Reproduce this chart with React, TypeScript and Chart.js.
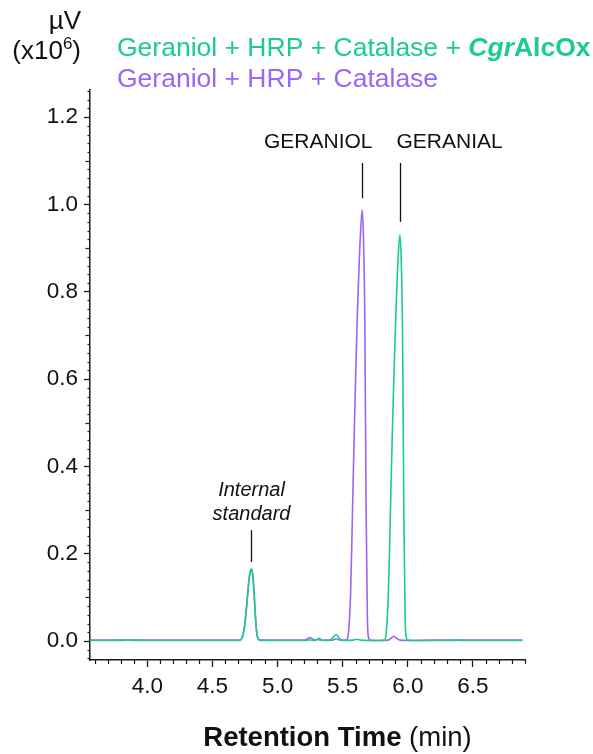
import React, { useEffect, useRef } from "react";
import { Chart, registerables } from "chart.js";

Chart.register(...registerables);

// ---- Data (retention time in min, signal in µV x10^6) ----
const GREEN_T = [3.56, 3.7, 3.85, 4.0, 4.2, 4.4, 4.6, 4.7,
  4.72, 4.73, 4.74, 4.75, 4.76, 4.77, 4.78, 4.79, 4.8, 4.81, 4.82, 4.83, 4.84, 4.85, 4.86,
  4.9, 5.0, 5.1, 5.2, 5.23, 5.25, 5.27, 5.3, 5.32, 5.34, 5.37, 5.41, 5.43, 5.45, 5.47, 5.49,
  5.52, 5.58, 5.61, 5.64, 5.7, 5.78, 5.82,
  5.83, 5.84, 5.85, 5.86, 5.87, 5.88, 5.89, 5.9, 5.91, 5.92, 5.93, 5.94, 5.95, 5.96, 5.97, 5.98, 5.99, 6.0,
  6.1, 6.25, 6.35, 6.38, 6.41, 6.55, 6.7, 6.88];
const GREEN_V = [0.001, 0.001, 0.002, 0.001, 0.001, 0.001, 0.001, 0.001,
  0.003, 0.009, 0.021, 0.041, 0.071, 0.105, 0.137, 0.157, 0.164, 0.15, 0.11, 0.056, 0.019, 0.005, 0.002,
  0.001, 0.001, 0.001, 0.001, 0.002, 0.003, 0.001, 0.003, 0.006, 0.002, 0.001, 0.003, 0.01, 0.015, 0.008, 0.002,
  0.001, 0.002, 0.004, 0.002, 0.001, 0.001, 0.002,
  0.008, 0.04, 0.1, 0.21, 0.34, 0.46, 0.57, 0.67, 0.76, 0.84, 0.9, 0.93, 0.87, 0.7, 0.28, 0.05, 0.006, 0.002,
  0.001, 0.001, 0.001, 0.003, 0.001, 0.001, 0.001, 0.001];

const PURPLE_T = [3.56, 3.75, 3.95, 4.15, 4.35, 4.55, 4.7,
  4.72, 4.73, 4.74, 4.75, 4.76, 4.77, 4.78, 4.79, 4.8, 4.81, 4.82, 4.83, 4.84, 4.85, 4.86,
  4.95, 5.1, 5.2, 5.23, 5.25, 5.27, 5.29, 5.31, 5.33, 5.42, 5.45, 5.48, 5.52,
  5.53, 5.54, 5.55, 5.56, 5.57, 5.58, 5.59, 5.6, 5.61, 5.62, 5.63, 5.64, 5.65, 5.66, 5.67, 5.68, 5.69, 5.7, 5.71,
  5.8, 5.85, 5.87, 5.89, 5.91, 5.94, 6.0, 6.2, 6.38, 6.6, 6.88];
const PURPLE_V = [0.002, 0.002, 0.002, 0.002, 0.002, 0.002, 0.002,
  0.004, 0.01, 0.022, 0.042, 0.072, 0.106, 0.138, 0.158, 0.165, 0.151, 0.111, 0.057, 0.02, 0.006, 0.003,
  0.002, 0.002, 0.002, 0.005, 0.008, 0.004, 0.002, 0.004, 0.002, 0.002, 0.005, 0.002, 0.002,
  0.003, 0.008, 0.04, 0.1, 0.22, 0.36, 0.49, 0.61, 0.72, 0.81, 0.89, 0.95, 0.987, 0.92, 0.74, 0.3, 0.05, 0.006, 0.002,
  0.001, 0.002, 0.006, 0.011, 0.007, 0.002, 0.001, 0.002, 0.002, 0.002, 0.002];

const X_MAJOR_TICKS = [4.0, 4.5, 5.0, 5.5, 6.0, 6.5];
const Y_MAJOR_TICKS = [0.0, 0.2, 0.4, 0.6, 0.8, 1.0, 1.2];

const SERIES_LABELS = ["Geraniol + HRP + Catalase + ", "Geraniol + HRP + Catalase"];
const ENZYME_ITALIC = "Cgr";
const ENZYME_BOLD = "AlcOx";
const X_TITLE_BOLD = "Retention Time";
const X_TITLE_REST = " (min)";
const Y_UNIT = "µV";

// peak annotations: label, x (min) of marker line, line top/bottom (signal)
const PEAK_LABELS = ["GERANIOL", "GERANIAL"];
const PEAK_TIMES = [5.65, 5.94];
const PEAK_LINE_TOP = [1.095, 1.095];
const PEAK_LINE_BOTTOM = [1.014, 0.96];
const IS_LABEL = ["Internal", "standard"];
const IS_TIME = 4.8;

const GREEN = "#1bcc8b";
const PURPLE = "#9966f5";
const FONT = "'Liberation Sans', Arial, Helvetica, sans-serif";
const AXIS = "#1a1a1a";

export default function App() {
  const ref = useRef<HTMLCanvasElement | null>(null);

  useEffect(() => {
    document.body.style.margin = "0";
    const canvas = ref.current;
    if (!canvas) return;

    const toPts = (t: number[], v: number[]) => t.map((x, i) => ({ x, y: v[i] }));

    const decor = {
      id: "decor",
      afterDraw(chart: any) {
        const ctx = chart.ctx as CanvasRenderingContext2D;
        const xs = chart.scales.x;
        const ys = chart.scales.y;
        const bottom = chart.chartArea.bottom;
        const left = chart.chartArea.left;
        ctx.save();
        // minor x ticks every 0.1
        ctx.strokeStyle = AXIS;
        ctx.lineWidth = 1.2;
        for (let i = 36; i <= 69; i++) {
          if (i % 5 === 0) continue;
          const px = Math.round(xs.getPixelForValue(i / 10)) + 0.5;
          ctx.beginPath();
          ctx.moveTo(px, bottom);
          ctx.lineTo(px, bottom + 4);
          ctx.stroke();
        }
        // minor y ticks every 0.02
        for (let i = -2; i <= 63; i++) {
          if (i % 10 === 0) continue;
          const py = Math.round(ys.getPixelForValue(i * 0.02)) + 0.5;
          const len = i % 5 === 0 ? 4.5 : 2.5;
          ctx.beginPath();
          ctx.moveTo(left, py);
          ctx.lineTo(left - len, py);
          ctx.stroke();
        }

        // y unit label
        ctx.fillStyle = "#111";
        ctx.textBaseline = "middle";
        ctx.textAlign = "right";
        ctx.font = `26px ${FONT}`;
        ctx.fillText(Y_UNIT, 81, 22);
        // (x10^6)
        const close = ")";
        const wClose = ctx.measureText(close).width;
        ctx.font = `17px ${FONT}`;
        const wSup = ctx.measureText("6").width;
        ctx.font = `26px ${FONT}`;
        ctx.textAlign = "left";
        const wMain = ctx.measureText("(x10").width;
        const x0 = 81 - wClose - wSup - wMain;
        ctx.fillText("(x10", x0, 52);
        ctx.font = `17px ${FONT}`;
        ctx.fillText("6", x0 + wMain, 44);
        ctx.font = `26px ${FONT}`;
        ctx.fillText(close, x0 + wMain + wSup, 52);

        // legend lines
        ctx.textAlign = "left";
        ctx.fillStyle = GREEN;
        ctx.font = `26.5px ${FONT}`;
        let lx = 117;
        ctx.fillText(SERIES_LABELS[0], lx, 49);
        lx += ctx.measureText(SERIES_LABELS[0]).width;
        ctx.font = `italic bold 26.5px ${FONT}`;
        ctx.fillText(ENZYME_ITALIC, lx, 49);
        lx += ctx.measureText(ENZYME_ITALIC).width;
        ctx.font = `bold 26.5px ${FONT}`;
        ctx.fillText(ENZYME_BOLD, lx, 49);
        ctx.fillStyle = PURPLE;
        ctx.font = `26.5px ${FONT}`;
        ctx.fillText(SERIES_LABELS[1], 117, 80);

        // peak annotations
        ctx.fillStyle = "#111";
        ctx.strokeStyle = "#111";
        ctx.lineWidth = 1.3;
        ctx.font = `21px ${FONT}`;
        PEAK_TIMES.forEach((t, i) => {
          const px = Math.round(xs.getPixelForValue(t)) + 0.5;
          ctx.beginPath();
          ctx.moveTo(px, ys.getPixelForValue(PEAK_LINE_TOP[i]));
          ctx.lineTo(px, ys.getPixelForValue(PEAK_LINE_BOTTOM[i]));
          ctx.stroke();
          const ty = ys.getPixelForValue(PEAK_LINE_TOP[i]) - 21;
          if (i === 0) {
            ctx.textAlign = "right";
            ctx.fillText(PEAK_LABELS[i], px + 10, ty);
          } else {
            ctx.textAlign = "left";
            ctx.fillText(PEAK_LABELS[i], px - 4, ty);
          }
        });
        // internal standard
        const ix = Math.round(xs.getPixelForValue(IS_TIME)) + 0.5;
        ctx.beginPath();
        ctx.moveTo(ix, ys.getPixelForValue(0.254));
        ctx.lineTo(ix, ys.getPixelForValue(0.181));
        ctx.stroke();
        ctx.textAlign = "center";
        ctx.font = `italic 20px ${FONT}`;
        ctx.fillText(IS_LABEL[0], ix, ys.getPixelForValue(0.346));
        ctx.fillText(IS_LABEL[1], ix, ys.getPixelForValue(0.291));

        // x axis title
        ctx.fillStyle = "#111";
        ctx.font = `bold 27.5px ${FONT}`;
        const w1 = ctx.measureText(X_TITLE_BOLD).width;
        ctx.font = `27.5px ${FONT}`;
        const w2 = ctx.measureText(X_TITLE_REST).width;
        const cx = (chart.chartArea.left + chart.chartArea.right) / 2 + 30;
        const sx = cx - (w1 + w2) / 2;
        ctx.textAlign = "left";
        ctx.font = `bold 27.5px ${FONT}`;
        ctx.fillText(X_TITLE_BOLD, sx, 738);
        ctx.font = `27.5px ${FONT}`;
        ctx.fillText(X_TITLE_REST, sx + w1, 738);
        ctx.restore();
      },
    };

    const chart = new Chart(canvas, {
      type: "line",
      data: {
        datasets: [
          {
            label: SERIES_LABELS[0] + ENZYME_ITALIC + ENZYME_BOLD,
            data: toPts(GREEN_T, GREEN_V),
            borderColor: GREEN,
            borderWidth: 1.6,
            pointRadius: 0,
            cubicInterpolationMode: "monotone",
            fill: false,
          },
          {
            label: SERIES_LABELS[1],
            data: toPts(PURPLE_T, PURPLE_V),
            borderColor: PURPLE,
            borderWidth: 1.6,
            pointRadius: 0,
            cubicInterpolationMode: "monotone",
            fill: false,
          },
        ],
      },
      options: {
        responsive: false,
        animation: false,
        devicePixelRatio: 1,
        layout: { padding: { left: 0, top: 90, right: 68, bottom: 0 } },
        plugins: { legend: { display: false }, tooltip: { enabled: false } },
        scales: {
          x: {
            type: "linear",
            min: 3.56,
            max: 6.9,
            afterBuildTicks: (s: any) => {
              s.ticks = X_MAJOR_TICKS.map((v) => ({ value: v }));
            },
            afterFit: (s: any) => {
              s.height = 94;
            },
            ticks: {
              callback: (v: any) => Number(v).toFixed(1),
              font: { family: FONT, size: 22.5 },
              color: "#111",
              padding: 6,
              maxRotation: 0,
              autoSkip: false,
            },
            grid: { drawOnChartArea: false, drawTicks: true, tickLength: 7, tickColor: AXIS, tickWidth: 1.3 },
            border: { display: true, color: AXIS, width: 1.5 },
          },
          y: {
            type: "linear",
            min: -0.0435,
            max: 1.262,
            afterBuildTicks: (s: any) => {
              s.ticks = Y_MAJOR_TICKS.map((v) => ({ value: v }));
            },
            afterFit: (s: any) => {
              s.width = 90;
            },
            ticks: {
              callback: (v: any) => Number(v).toFixed(1),
              font: { family: FONT, size: 22.5 },
              color: "#111",
              padding: 6,
              autoSkip: false,
            },
            grid: { drawOnChartArea: false, drawTicks: true, tickLength: 6, tickColor: AXIS, tickWidth: 1.3 },
            border: { display: true, color: AXIS, width: 1.5 },
          },
        },
      },
      plugins: [decor],
    });

    return () => chart.destroy();
  }, []);

  return (
    <div style={{ width: 593, height: 754, position: "relative", background: "#fff" }}>
      <canvas ref={ref} width={593} height={754} style={{ width: 593, height: 754, display: "block" }} />
    </div>
  );
}
